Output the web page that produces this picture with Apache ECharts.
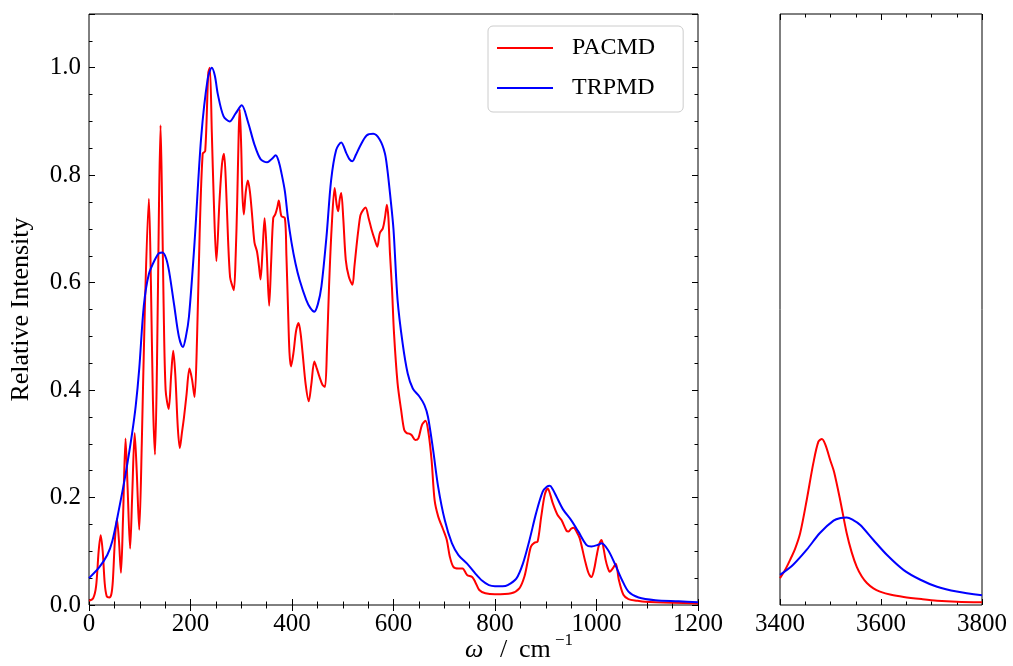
<!DOCTYPE html>
<html>
<head>
<meta charset="utf-8">
<script src="https://cdn.jsdelivr.net/npm/echarts@6/dist/echarts.min.js"></script>
<style>html,body{margin:0;padding:0;background:#fff}#c{width:1013px;height:666px}</style>
</head>
<body>
<div id="c"></div>
<script>
// ---- data (omega in cm^-1, relative intensity) ----
const seriesNames = ['PACMD', 'TRPMD'];
const lowTicks = [0, 200, 400, 600, 800, 1000, 1200];
const highTicks = [3400, 3600, 3800];
const yTicks = [0.0, 0.2, 0.4, 0.6, 0.8, 1.0];

const pacmdLow = [
[0,0.008],[8,0.012],[14,0.035],[19,0.1],[23,0.13],[27,0.1],[31,0.04],[35,0.016],[40,0.014],[44,0.02],
[47,0.045],[51,0.12],[55,0.16],[59,0.12],[63,0.06],[67,0.16],[72,0.31],[76,0.22],[81,0.105],[85,0.2],
[90,0.32],[94,0.25],[99,0.14],[104,0.3],[110,0.55],[118,0.756],[122,0.6],[126,0.38],[130,0.28],[134,0.45],
[138,0.75],[141,0.893],[144,0.75],[147,0.56],[151,0.4],[157,0.365],[162,0.43],[166,0.473],[170,0.43],[175,0.33],
[179,0.292],[183,0.32],[187,0.348],[192,0.39],[198,0.44],[203,0.42],[208,0.387],[213,0.5],[218,0.69],[224,0.84],
[229,0.845],[235,0.99],[238,1.0],[242,0.88],[246,0.75],[251,0.64],[257,0.75],[262,0.82],[266,0.84],[270,0.78],
[274,0.68],[278,0.61],[282,0.595],[285.5,0.586],[289,0.65],[292,0.75],[295,0.88],[297,0.923],[300,0.85],[302,0.77],
[305,0.727],[309,0.77],[313,0.79],[317,0.77],[321,0.73],[326,0.675],[331,0.658],[335,0.63],[338,0.606],[342,0.66],
[346,0.72],[350,0.66],[355,0.557],[359,0.64],[363,0.72],[367,0.727],[371,0.74],[374,0.753],[379,0.724],[386,0.72],
[389,0.65],[392,0.557],[395,0.47],[398,0.444],[403,0.47],[408,0.51],[413,0.525],[417,0.505],[421,0.468],[427,0.41],
[433,0.379],[438,0.41],[444,0.453],[449,0.44],[454,0.425],[460,0.41],[465,0.406],[469,0.48],[473,0.593],[478,0.7],
[484,0.776],[488,0.745],[491,0.733],[494,0.755],[497,0.767],[501,0.72],[506,0.642],[512,0.611],[519,0.596],[523,0.63],
[527,0.667],[531,0.7],[535,0.726],[540,0.735],[545,0.74],[551,0.72],[557,0.698],[563,0.68],[568,0.667],[573,0.692],
[579,0.701],[583,0.72],[587,0.745],[590,0.72],[593,0.655],[597,0.59],[601,0.506],[608,0.413],[615,0.363],[621,0.326],
[626,0.32],[631,0.319],[636,0.316],[643,0.307],[649,0.31],[656,0.335],[663,0.343],[669,0.32],[675,0.27],[681,0.195],
[688,0.165],[698,0.14],[705,0.121],[711,0.09],[718,0.071],[728,0.068],[736,0.068],[745,0.056],[755,0.052],[761,0.043],
[769,0.028],[781,0.022],[800,0.02],[832,0.022],[848,0.031],[858,0.053],[865,0.084],[871,0.109],[878,0.116],[884,0.118],
[891,0.164],[898,0.205],[904,0.217],[909,0.205],[914,0.189],[923,0.168],[931,0.158],[941,0.138],[945,0.137],[950,0.142],
[955,0.144],[961,0.136],[967,0.124],[977,0.084],[984,0.06],[990,0.052],[995,0.065],[1000,0.09],[1005,0.112],[1010,0.121],
[1014,0.105],[1018,0.084],[1022,0.07],[1026,0.062],[1032,0.068],[1038,0.077],[1044,0.047],[1053,0.019],[1063,0.011],[1080,0.008],
[1096,0.006],[1150,0.004],[1200,0.003]
];

const trpmdLow = [
[0,0.05],[20,0.07],[36,0.093],[46,0.119],[59,0.178],[72,0.243],[85,0.32],[92,0.37],[99,0.44],[108,0.557],
[118,0.616],[131,0.645],[138,0.655],[145,0.656],[152,0.645],[158,0.62],[168,0.557],[177,0.5],[185,0.48],[191,0.5],
[197,0.537],[208,0.675],[221,0.87],[234,0.98],[242,1.0],[248,0.985],[254,0.95],[265,0.91],[277,0.9],[289,0.915],
[301,0.93],[313,0.9],[326,0.857],[338,0.83],[351,0.824],[360,0.83],[368,0.837],[374,0.825],[379,0.805],[386,0.77],
[392,0.72],[399,0.675],[407,0.635],[415,0.605],[428,0.568],[436,0.553],[444,0.546],[451,0.56],[458,0.593],[468,0.686],
[477,0.79],[487,0.847],[497,0.861],[507,0.841],[513,0.83],[519,0.826],[526,0.838],[534,0.854],[547,0.874],[560,0.877],
[573,0.866],[583,0.841],[588,0.81],[593,0.767],[600,0.699],[608,0.568],[618,0.487],[628,0.431],[638,0.403],[651,0.388],
[661,0.372],[668,0.35],[678,0.289],[688,0.22],[701,0.158],[715,0.115],[728,0.093],[745,0.077],[761,0.059],[775,0.045],
[788,0.037],[800,0.035],[815,0.035],[825,0.037],[842,0.049],[855,0.077],[868,0.121],[881,0.171],[894,0.211],[902,0.22],
[908,0.222],[914,0.215],[921,0.202],[934,0.178],[950,0.158],[964,0.137],[980,0.112],[990,0.109],[1003,0.112],[1010,0.115],
[1023,0.102],[1036,0.077],[1050,0.047],[1063,0.025],[1083,0.014],[1116,0.009],[1162,0.007],[1200,0.005]
];

const pacmdHigh = [
[3400,0.05],[3410,0.065],[3420,0.084],[3430,0.105],[3440,0.134],[3453,0.196],[3466,0.264],[3476,0.304],[3483,0.309],[3490,0.298],
[3500,0.268],[3507,0.248],[3519,0.196],[3532,0.134],[3542,0.098],[3552,0.071],[3562,0.053],[3572,0.041],[3585,0.031],[3598,0.025],
[3620,0.019],[3645,0.015],[3680,0.011],[3711,0.008],[3750,0.006],[3800,0.005]
];

const trpmdHigh = [
[3400,0.056],[3426,0.075],[3453,0.103],[3479,0.134],[3506,0.157],[3520,0.162],[3532,0.163],[3545,0.158],[3559,0.149],[3585,0.121],
[3612,0.093],[3645,0.065],[3678,0.047],[3711,0.034],[3750,0.025],[3800,0.018]
];

const colors = ['#ff0000', '#0000ff'];
const FONT = 'Liberation Serif';

const chart = echarts.init(document.getElementById('c'), null, {renderer: 'canvas'});

function xAx(grid, min, max, pos, labels) {
  return {
    type: 'value', gridIndex: grid, min: min, max: max, interval: 200, position: pos,
    axisLine: {show: false},
    axisTick: {show: true, inside: true, length: 6, lineStyle: {color: '#000', width: 1}},
    minorTick: {show: true, splitNumber: 4, length: 3.5, lineStyle: {color: '#000', width: 1}},
    splitLine: {show: false}, minorSplitLine: {show: false},
    axisLabel: {show: labels, color: '#000', fontFamily: FONT, fontSize: 25, margin: 7,
      showMinLabel: true, showMaxLabel: true, formatter: v => String(Math.round(v))}
  };
}
function yAx(grid, pos, interval, len, labels, show) {
  return {
    type: 'value', gridIndex: grid, min: 0, max: 1.1, interval: interval, position: pos, offset: 0,
    axisLine: {show: false},
    axisTick: {show: show, inside: true, length: len, lineStyle: {color: '#000', width: 1}},
    splitLine: {show: false},
    axisLabel: {show: labels, color: '#000', fontFamily: FONT, fontSize: 25, margin: 8,
      formatter: v => (v > 1.05 ? '' : v.toFixed(1))}
  };
}

const yLeftMain = yAx(0, 'left', 0.2, 6, true, true);
yLeftMain.name = 'Relative Intensity';
yLeftMain.nameLocation = 'middle';
yLeftMain.nameGap = 55;
yLeftMain.nameRotate = 90;
yLeftMain.nameTextStyle = {color: '#000', fontFamily: FONT, fontSize: 26};

const option = {
  animation: false,
  backgroundColor: '#fff',
  grid: [
    {left: 89, top: 14, width: 609, height: 591, show: true, borderColor: '#000', borderWidth: 1,
      backgroundColor: 'transparent', containLabel: false, outerBoundsMode: 'none'},
    {left: 780, top: 14, width: 202, height: 591, show: true, borderColor: '#000', borderWidth: 1,
      backgroundColor: 'transparent', containLabel: false, outerBoundsMode: 'none'}
  ],
  xAxis: [
    xAx(0, 0, 1200, 'bottom', true),
    xAx(0, 0, 1200, 'top', false),
    xAx(1, 3400, 3800, 'bottom', true),
    xAx(1, 3400, 3800, 'top', false)
  ],
  yAxis: [
    yLeftMain,
    yAx(0, 'left', 0.05, 3.5, false, true),
    yAx(0, 'right', 0.2, 6, false, true),
    yAx(0, 'right', 0.05, 3.5, false, true),
    yAx(1, 'left', 0.2, 6, false, false)
  ],
  legend: {
    data: seriesNames,
    orient: 'vertical',
    left: 488, top: 26,
    padding: [8, 28, 10, 9],
    itemWidth: 56, itemHeight: 2.2, itemGap: 12,
    icon: 'rect',
    selectedMode: false,
    backgroundColor: 'rgba(255,255,255,0.8)',
    borderColor: '#cccccc', borderWidth: 1, borderRadius: 5,
    textStyle: {color: '#000', fontFamily: FONT, fontSize: 24, lineHeight: 28, padding: [0, 0, 0, 14]}
  },
  graphic: [
    {type: 'text', left: 465, top: 637, style: {text: 'ω', fill: '#000', font: 'italic 26px "Liberation Serif"'}},
    {type: 'text', left: 500, top: 637, style: {text: '/', fill: '#000', font: '26px "Liberation Serif"'}},
    {type: 'text', left: 519, top: 637, style: {text: 'cm', fill: '#000', font: '26px "Liberation Serif"'}},
    {type: 'text', left: 555, top: 632, style: {text: '−1', fill: '#000', font: '17px "Liberation Serif"'}}
  ],
  series: [
    {name: seriesNames[0], type: 'line', xAxisIndex: 0, yAxisIndex: 0, data: pacmdLow, showSymbol: false, symbol: 'none',
      smooth: 0.3, lineStyle: {color: colors[0], width: 2}, itemStyle: {color: colors[0]}, z: 2},
    {name: seriesNames[1], type: 'line', xAxisIndex: 0, yAxisIndex: 0, data: trpmdLow, showSymbol: false, symbol: 'none',
      smooth: 0.3, lineStyle: {color: colors[1], width: 2}, itemStyle: {color: colors[1]}, z: 3},
    {name: seriesNames[0], type: 'line', xAxisIndex: 2, yAxisIndex: 4, data: pacmdHigh, showSymbol: false, symbol: 'none',
      smooth: 0.3, lineStyle: {color: colors[0], width: 2}, itemStyle: {color: colors[0]}, z: 2},
    {name: seriesNames[1], type: 'line', xAxisIndex: 2, yAxisIndex: 4, data: trpmdHigh, showSymbol: false, symbol: 'none',
      smooth: 0.3, lineStyle: {color: colors[1], width: 2}, itemStyle: {color: colors[1]}, z: 3}
  ]
};
chart.setOption(option);
</script>
</body>
</html>
